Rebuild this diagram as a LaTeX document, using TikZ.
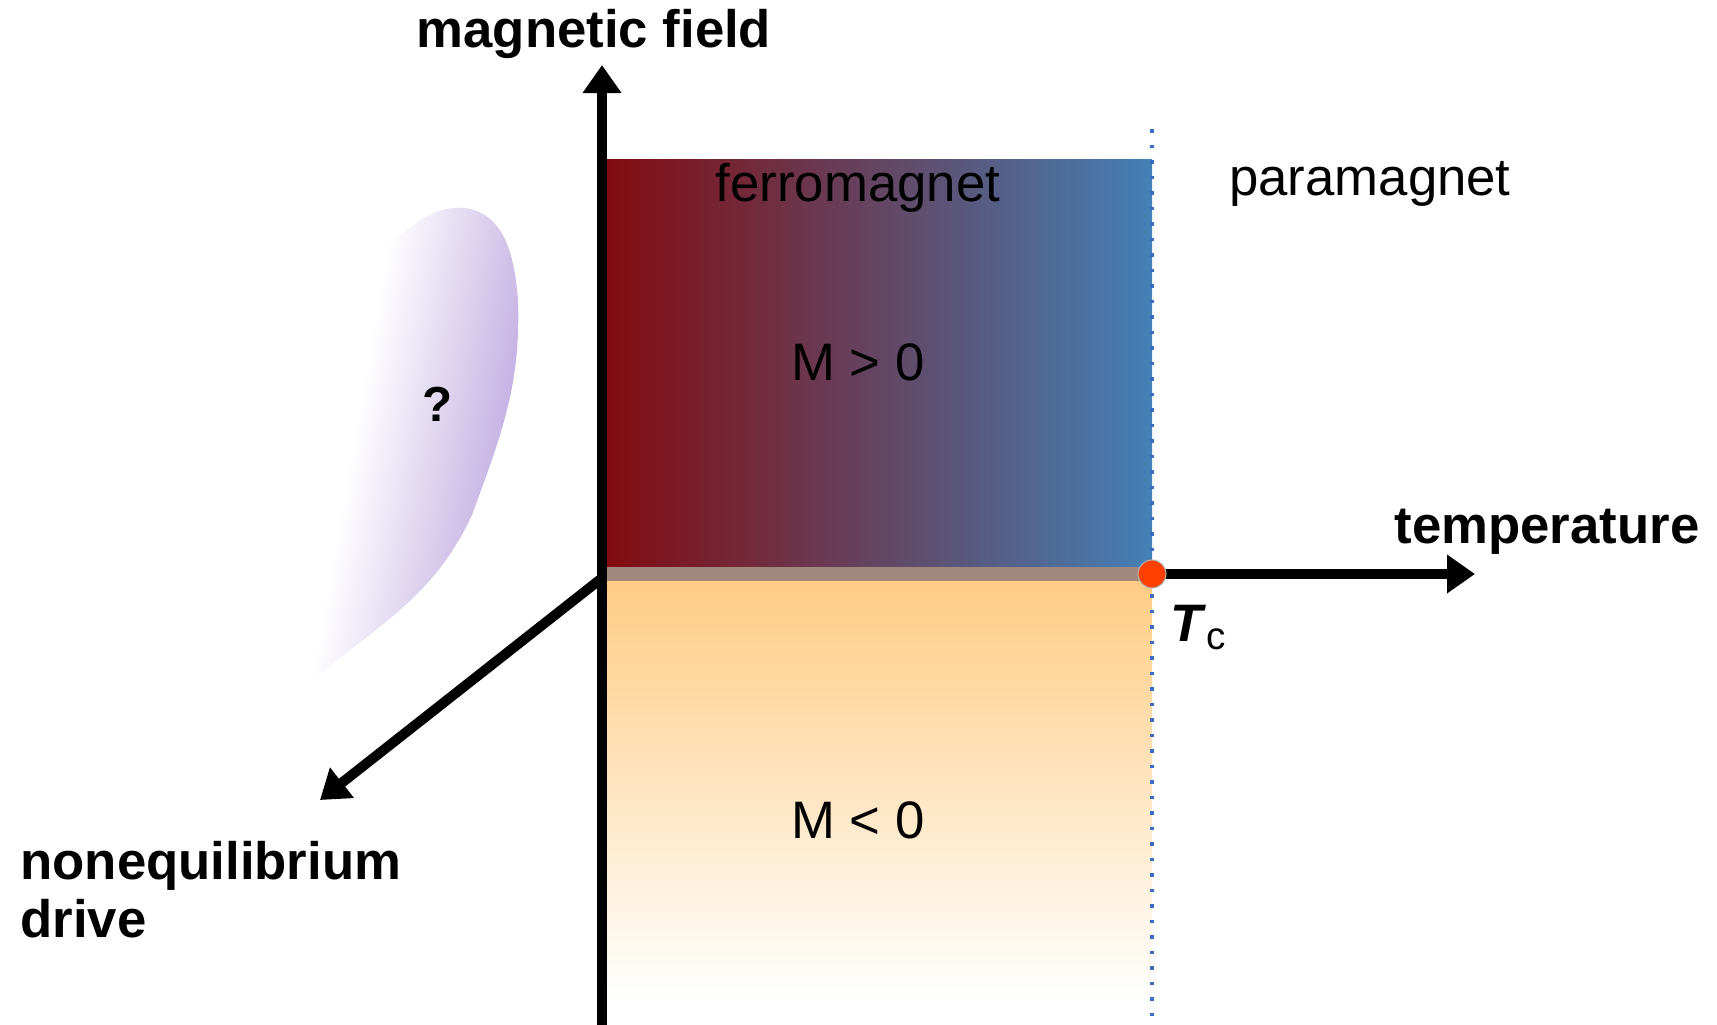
\documentclass[tikz,border=0pt]{standalone}
\usepackage{fontspec}
\setmainfont{Liberation Sans}
\usetikzlibrary{arrows.meta,positioning}
\definecolor{ferrored}{RGB}{131,10,14}
\definecolor{ferroblue}{RGB}{68,128,182}
\definecolor{bandgray}{RGB}{160,136,124}
\definecolor{negorange}{RGB}{255,204,132}
\definecolor{blobviolet}{RGB}{190,170,224}
\definecolor{tcred}{RGB}{255,64,0}
\definecolor{dotblue}{RGB}{60,110,190}
\tikzset{
  axs/.style={-{Triangle[length=2.8mm,width=3.7mm]}, line width=1mm},
  axl/.style={font=\fontsize{15}{16.5}\selectfont\bfseries, anchor=base},
  phl/.style={font=\fontsize{15}{18}\selectfont, anchor=base},
  tcdot/.style={circle, fill=tcred, draw=gray!60, line width=0.3pt, inner sep=0pt, minimum size=2.8mm},
  tcline/.style={dotblue, line width=0.35mm, dash pattern=on 0.35mm off 1.2mm},
}

\begin{document}
\begin{tikzpicture}
\useasboundingbox (0,0) rectangle (17.17,-10.24);
% phase regions
\shade[left color=ferrored, right color=ferroblue] (6.02,-1.59) rectangle (11.52,-5.67);
\fill[bandgray] (6.02,-5.67) rectangle (11.52,-5.81);
\shade[top color=negorange, bottom color=white] (6.02,-5.81) rectangle (11.52,-10.0);
% unknown region
\begin{scope}
  \clip (3.13,-6.80) to[out=80,in=-105] (3.90,-2.42)
    to[out=35,in=175] (4.66,-2.08) to[out=-10,in=95] (5.18,-3.0)
    to[out=-88,in=70] (4.72,-5.15) to[out=-115,in=40] cycle;
  \shade[left color=white, right color=blobviolet,
    transform canvas={rotate around={-10:(3.13,-6.80)}}] (3.10,-7.6) rectangle (4.78,-0.8);
\end{scope}
\draw[tcline] (11.52,-1.29) -- (11.52,-10.3);
% axes
\coordinate (O) at (6.02,-5.78);
\coordinate (Hbot) at (6.02,-10.3);
\coordinate (Htop) at (6.02,-0.65);
\coordinate (Tc) at (11.52,-5.74);
\coordinate (Tend) at (14.75,-5.74);
\coordinate (Dend) at (3.20,-8.0);
\draw[axs] (Hbot) -- (Htop);
\draw[axs] (Tc) -- (Tend);
\draw[axs] (O) -- (Dend);
\node[tcdot] (tcpt) at (Tc) {};
% labels
\node[axl] (hlab) at (5.94,-0.47) {magnetic field};
\node[axl] (tlab) at (15.47,-5.43) {temperature};
\node[axl, anchor=base west, align=left] (dlab) at (0.08,-9.37) {nonequilibrium\\drive};
\node[phl] (ferro) at (8.58,-2.01) {ferromagnet};
\node[phl] (para) at (13.70,-1.95) {paramagnet};
\node[phl] (mpos) at (8.58,-3.80) {M > 0};
\node[phl] (mneg) at (8.58,-8.38) {M < 0};
\node[axl, font=\fontsize{14}{16}\selectfont\bfseries] (qmark) at (4.38,-4.21) {?};
\node[phl, anchor=base west] (tclab) at (11.58,-6.41) {\textbf{\textit{T}}\raisebox{-0.3ex}{\fontsize{11}{11}\selectfont c}};
\end{tikzpicture}
\end{document}
